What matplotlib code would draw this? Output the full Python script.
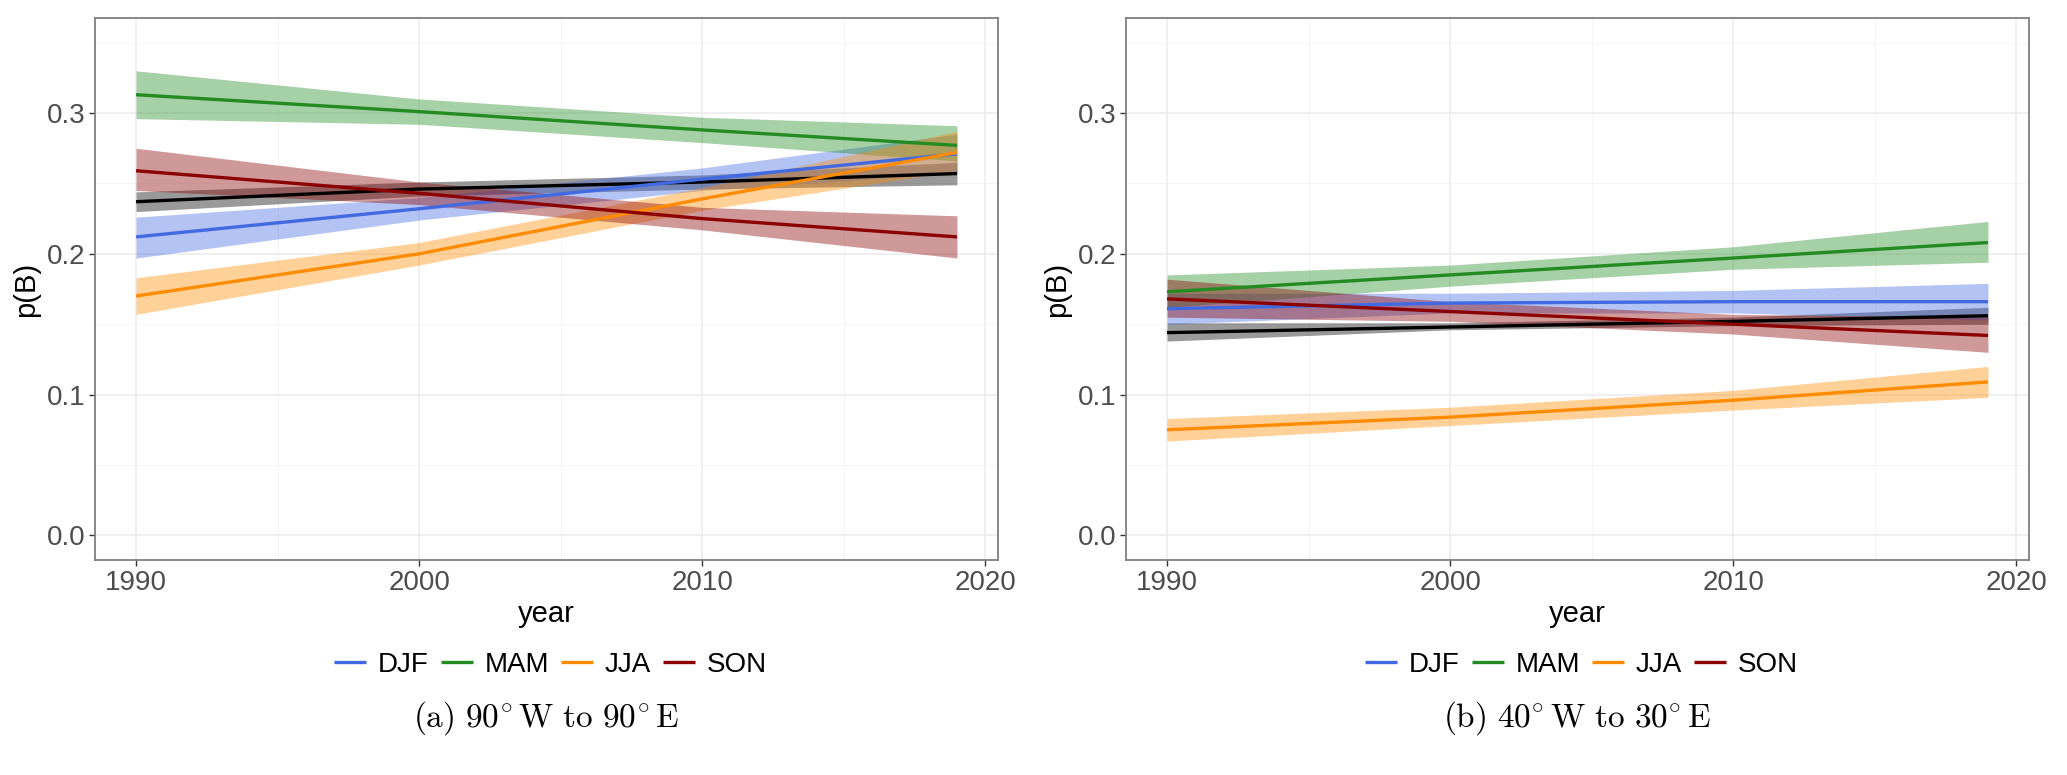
import matplotlib
matplotlib.use("Agg")
import matplotlib.pyplot as plt
import numpy as np
from matplotlib.ticker import MultipleLocator

plt.rcParams['font.family'] = ['Liberation Sans', 'DejaVu Sans']
plt.rcParams['mathtext.fontset'] = 'cm'

years = [1990, 2000, 2010, 2019]
seasons = ["DJF", "MAM", "JJA", "SON"]
colors = {"DJF": "#4169E1", "MAM": "#228B22", "JJA": "#FF8C00", "SON": "#8B0000", "ALL": "#000000"}

# Panel (a): 90 W to 90 E
a_DJF = [0.212, 0.232, 0.253, 0.271]
a_DJF_lo = [0.197, 0.224, 0.245, 0.257]
a_DJF_hi = [0.226, 0.240, 0.261, 0.285]
a_MAM = [0.313, 0.301, 0.288, 0.277]
a_MAM_lo = [0.296, 0.292, 0.279, 0.266]
a_MAM_hi = [0.330, 0.310, 0.297, 0.291]
a_JJA = [0.170, 0.200, 0.239, 0.272]
a_JJA_lo = [0.157, 0.192, 0.231, 0.259]
a_JJA_hi = [0.183, 0.208, 0.247, 0.287]
a_SON = [0.259, 0.243, 0.225, 0.212]
a_SON_lo = [0.245, 0.235, 0.217, 0.197]
a_SON_hi = [0.275, 0.251, 0.233, 0.227]
a_ALL = [0.237, 0.246, 0.251, 0.257]
a_ALL_lo = [0.230, 0.241, 0.246, 0.249]
a_ALL_hi = [0.244, 0.251, 0.256, 0.265]

# Panel (b): 40 W to 30 E
b_DJF = [0.161, 0.165, 0.166, 0.166]
b_DJF_lo = [0.150, 0.158, 0.158, 0.153]
b_DJF_hi = [0.172, 0.172, 0.174, 0.179]
b_MAM = [0.173, 0.185, 0.197, 0.208]
b_MAM_lo = [0.162, 0.177, 0.189, 0.194]
b_MAM_hi = [0.185, 0.192, 0.205, 0.223]
b_JJA = [0.075, 0.084, 0.096, 0.109]
b_JJA_lo = [0.067, 0.078, 0.089, 0.098]
b_JJA_hi = [0.083, 0.091, 0.103, 0.120]
b_SON = [0.168, 0.159, 0.150, 0.142]
b_SON_lo = [0.155, 0.152, 0.143, 0.130]
b_SON_hi = [0.182, 0.166, 0.157, 0.155]
b_ALL = [0.144, 0.148, 0.152, 0.156]
b_ALL_lo = [0.138, 0.146, 0.149, 0.150]
b_ALL_hi = [0.151, 0.151, 0.155, 0.162]

panel_a = {
    "ALL": (a_ALL, a_ALL_lo, a_ALL_hi),
    "DJF": (a_DJF, a_DJF_lo, a_DJF_hi),
    "MAM": (a_MAM, a_MAM_lo, a_MAM_hi),
    "JJA": (a_JJA, a_JJA_lo, a_JJA_hi),
    "SON": (a_SON, a_SON_lo, a_SON_hi),
}
panel_b = {
    "ALL": (b_ALL, b_ALL_lo, b_ALL_hi),
    "DJF": (b_DJF, b_DJF_lo, b_DJF_hi),
    "MAM": (b_MAM, b_MAM_lo, b_MAM_hi),
    "JJA": (b_JJA, b_JJA_lo, b_JJA_hi),
    "SON": (b_SON, b_SON_lo, b_SON_hi),
}
captions = [r'$\mathrm{(a)\ 90^{\circ}\,W\ to\ 90^{\circ}\,E}$',
            r'$\mathrm{(b)\ 40^{\circ}\,W\ to\ 30^{\circ}\,E}$']

W, H = 2067, 775
fig = plt.figure(figsize=(W / 100, H / 100), dpi=100)

axes_px = [(95, 18, 903, 542), (1126, 18, 903, 542)]
tick_fs = 20
for i, (panel, (x0, y0, w, h)) in enumerate(zip([panel_a, panel_b], axes_px)):
    ax = fig.add_axes([x0 / W, 1 - (y0 + h) / H, w / W, h / H])
    for key in ["ALL", "DJF", "MAM", "JJA", "SON"]:
        mid, lo, hi = panel[key]
        ax.fill_between(years, lo, hi, color=colors[key], alpha=0.4, lw=0, zorder=2)
    for key in ["ALL", "DJF", "MAM", "JJA", "SON"]:
        mid, lo, hi = panel[key]
        ax.plot(years, mid, color=colors[key], lw=2.4, zorder=3,
                label=key if key in seasons else None, solid_capstyle='butt')
    ax.set_xlim(1988.55, 2020.45)
    ax.set_ylim(-0.0175, 0.3675)
    ax.xaxis.set_major_locator(MultipleLocator(10))
    ax.xaxis.set_minor_locator(MultipleLocator(5))
    ax.yaxis.set_major_locator(MultipleLocator(0.1))
    ax.yaxis.set_minor_locator(MultipleLocator(0.05))
    ax.yaxis.set_major_formatter(matplotlib.ticker.FormatStrFormatter('%.1f'))
    ax.grid(which='major', color='#EBEBEB', lw=1.1, zorder=0)
    ax.grid(which='minor', color='#F4F4F4', lw=0.7, zorder=0)
    ax.set_axisbelow(True)
    for s in ax.spines.values():
        s.set_color('#7F7F7F')
        s.set_linewidth(1.3)
    ax.tick_params(which='major', length=4, width=1, color='#333333',
                   labelsize=tick_fs, labelcolor='#4D4D4D', pad=3)
    ax.tick_params(which='minor', length=0)
    ax.set_xlabel('year', fontsize=21, color='black', labelpad=3)
    ax.set_ylabel('p(B)', fontsize=21, color='black', labelpad=5)
    cx = (x0 + w / 2) / W
    handles, labels = ax.get_legend_handles_labels()
    fig.legend(handles, labels, loc='center', bbox_to_anchor=(cx + 4 / W, 1 - 665 / H),
               ncol=4, frameon=False, fontsize=20, handlelength=1.15,
               handletextpad=0.43, columnspacing=0.43, borderaxespad=0)
    fig.text(cx, 1 - 718 / H, captions[i], ha='center', va='center', fontsize=24)

fig.savefig('out.png', dpi=100, facecolor='white')
